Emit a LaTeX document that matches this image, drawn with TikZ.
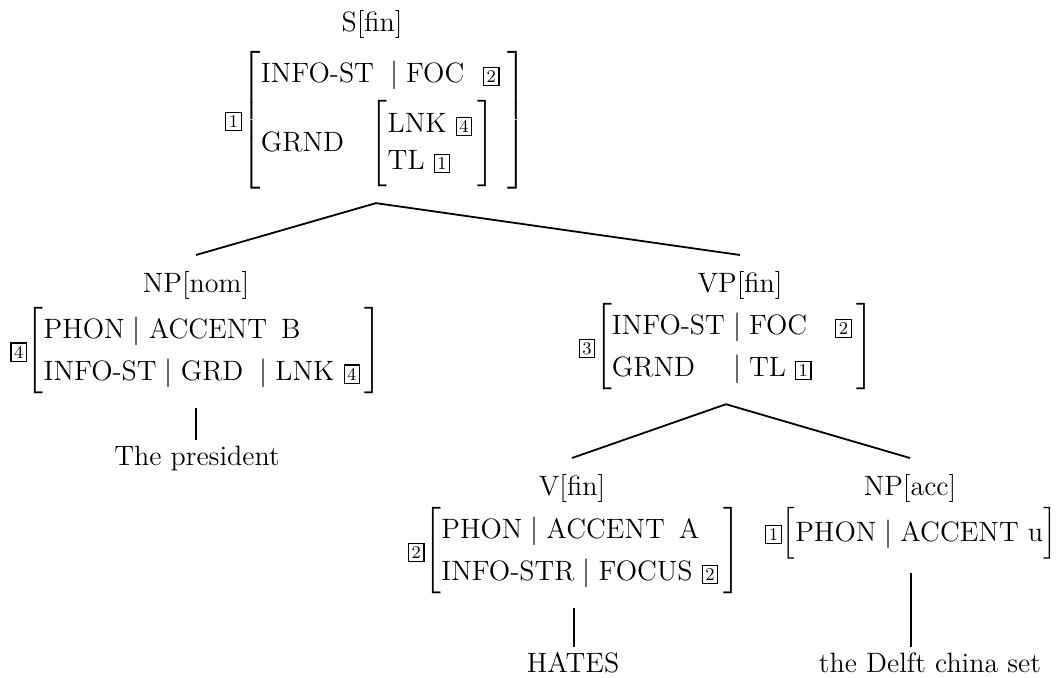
\documentclass[tikz,border=0pt]{standalone}
\usepackage{amsmath}
\usetikzlibrary{positioning}
\newcommand{\tagbox}[1]{{\setlength{\fboxsep}{1.2pt}\setlength{\fboxrule}{0.6pt}\fbox{\fontsize{9}{9}\selectfont #1}}}
\newcommand{\ft}[1]{\text{#1}}
\newcommand{\pth}{\;|\;}
\renewcommand{\arraystretch}{1.26}
\delimiterfactor=1000
\delimitershortfall=0pt
\tikzset{
  cat/.style={inner sep=1pt, outer sep=7pt, font=\fontsize{14}{16.5}\selectfont},
  avm/.style={inner sep=0pt, outer sep=7pt, font=\fontsize{14}{16.5}\selectfont},
  word/.style={inner sep=1pt, outer sep=2pt, font=\fontsize{14}{16.5}\selectfont},
  branch/.style={line width=0.9pt}
}
\begin{document}
\begin{tikzpicture}[x=0.5pt,y=-0.5pt]
\useasboundingbox (0,0) rectangle (1060,677);

% mother
\node[cat] (sfin) at (372,24) {S[fin]};
\node[avm] (savm) at (376,120) {$\tagbox{1}\!\left[\begin{array}{@{}l@{\;}}
    \ft{INFO-ST}\;\pth\ft{FOC}\enspace\,\tagbox{2}\\[3pt]
    \ft{GRND}\enspace\;\renewcommand{\arraystretch}{1.12}\left[\begin{array}{@{}l@{\,}}\ft{LNK}\ \tagbox{4}\\ \ft{TL}\ \tagbox{1}\end{array}\right]\rule[-18pt]{0pt}{0pt}
  \end{array}\right]$};

% subject
\node[cat] (npnom) at (196,285) {NP[nom]};
\node[avm] (npnomavm) at (196,351) {$\tagbox{4}\!\left[\begin{array}{@{}l@{\,}}
    \ft{PHON}\pth\ft{ACCENT\enspace B}\\
    \ft{INFO-ST}\pth\ft{GRD}\;\;|\;\ft{LNK}\ \tagbox{4}
  \end{array}\right]$};
\node[word] (pres) at (197,458) {The president};

% verb phrase
\node[cat] (vpfin) at (740,285) {VP[fin]};
\node[avm] (vpavm) at (726,347) {$\tagbox{3}\!\left[\begin{array}{@{}l@{\;}c@{\;}l@{\,}}
    \ft{INFO-ST}&|&\ft{FOC}\quad\tagbox{2}\\
    \ft{GRND}&|&\ft{TL}\ \tagbox{1}
  \end{array}\right]$};

\node[cat] (vfin) at (572,488) {V[fin]};
\node[avm] (vavm) at (574,551) {$\tagbox{2}\!\left[\begin{array}{@{}l@{\,}}
    \ft{PHON}\pth\ft{ACCENT\enspace A}\\
    \ft{INFO-STR}\pth\ft{FOCUS}\ \tagbox{2}
  \end{array}\right]$};
\node[word] (hates) at (573,663) {HATES};

\node[cat] (npacc) at (910,488) {NP[acc]};
\node[avm] (npaccavm) at (911,533) {$\tagbox{1}\!\left[\begin{array}{@{}l@{}}
    \ft{PHON}\pth\ft{ACCENT u}
  \end{array}\right]$};
\node[word] (delft) at (930,663) {the Delft china set};

% branches
\draw[branch] (npnom.north) -- (savm.south) -- (vpfin.north);
\draw[branch] (vfin.north) -- (vpavm.south) -- (npacc.north);
\draw[branch] (npnomavm.south) -- (npnomavm.south |- pres.north);
\draw[branch] (vavm.south) -- (vavm.south |- hates.north);
\draw[branch] (npaccavm.south) -- (npaccavm.south |- delft.north);
\end{tikzpicture}
\end{document}
